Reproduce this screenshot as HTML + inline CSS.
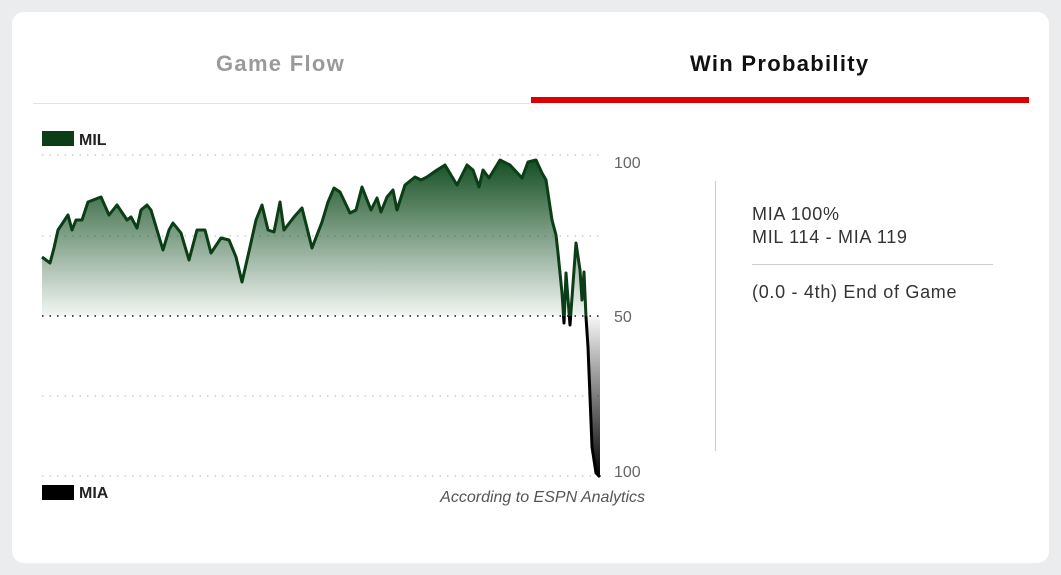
<!DOCTYPE html><html><head><style>
body{margin:0;background:#ebecee;width:1061px;height:575px;overflow:hidden;font-family:"Liberation Sans",sans-serif}
.card{position:absolute;left:12px;top:12px;width:1037px;height:551px;background:#fff;border-radius:12px}
.t{position:absolute;font-size:22px;font-weight:bold;top:51px;letter-spacing:1.3px}
.r{position:absolute;font-size:18px;color:#333;left:752px;letter-spacing:0.7px}
</style></head><body><div class="card"></div>
<div class="t" style="left:216px;color:#9a9a9a">Game Flow</div>
<div class="t" style="left:690px;color:#111">Win Probability</div>
<div style="position:absolute;left:33px;top:103px;width:498px;height:1px;background:#e3e3e3"></div>
<div style="position:absolute;left:531px;top:97px;width:498px;height:6px;background:#d00"></div>
<div style="position:absolute;left:715px;top:181px;width:1px;height:270px;background:#ccc"></div>
<div class="r" style="top:204px">MIA 100%</div>
<div class="r" style="top:227px">MIL 114 - MIA 119</div>
<div style="position:absolute;left:752px;top:264px;width:241px;height:1px;background:#ccc"></div>
<div class="r" style="top:282px">(0.0 - 4th) End of Game</div>
<svg width="1061" height="575" style="position:absolute;left:0;top:0">
<defs>
<linearGradient id="g" x1="0" y1="155" x2="0" y2="316" gradientUnits="userSpaceOnUse"><stop offset="0" stop-color="#0d4a1c"/><stop offset="1" stop-color="#0d4a1c" stop-opacity="0.05"/></linearGradient>
<linearGradient id="k" x1="0" y1="316" x2="0" y2="477" gradientUnits="userSpaceOnUse"><stop offset="0" stop-color="#000" stop-opacity="0.03"/><stop offset="1" stop-color="#000"/></linearGradient>
<clipPath id="top"><rect x="0" y="0" width="700" height="316"/></clipPath>
<clipPath id="bot"><rect x="0" y="316" width="700" height="300"/></clipPath>
<path id="ln" d="M42,257 L50,263 L54,248 L58,230 L68,215 L72,230 L76,220 L82,220 L88,202 L101,197 L109,215 L117,205 L127,220 L131,217 L137,228 L141,210 L147,205 L151,210 L157,230 L163,250 L169,230 L173,223 L181,233 L189,260 L197,230 L205,230 L211,253 L221,238 L229,240 L236,257 L242,282 L250,247 L256,220 L262,205 L268,230 L274,232 L280,202 L284,230 L294,217 L302,208 L312,248 L322,222 L328,202 L334,188 L340,192 L350,213 L356,210 L362,187 L371,210 L377,198 L381,212 L387,197 L393,190 L397,210 L405,185 L415,177 L421,180 L427,177 L437,170 L445,165 L457,185 L467,165 L473,170 L479,187 L483,170 L489,178 L500,160 L510,165 L522,178 L528,162 L536,160 L542,173 L546,180 L552,220 L556,235 L558,253 L562,293 L564,323 L566,273 L570,325 L576,243 L580,270 L582,300 L584,272 L586,317 L588,347 L590,397 L592,447 L596,473 L600,477"/>
</defs>
<g stroke-dasharray="1.5 6" stroke-width="1.5">
<line x1="42" y1="155" x2="600" y2="155" stroke="#ccc"/>
<line x1="42" y1="236" x2="600" y2="236" stroke="#ccc"/>
<line x1="42" y1="316" x2="600" y2="316" stroke="#111"/>
<line x1="42" y1="396" x2="600" y2="396" stroke="#ccc"/>
<line x1="42" y1="476" x2="600" y2="476" stroke="#ccc"/>
</g>
<path d="M42,316 L42,257 L50,263 L54,248 L58,230 L68,215 L72,230 L76,220 L82,220 L88,202 L101,197 L109,215 L117,205 L127,220 L131,217 L137,228 L141,210 L147,205 L151,210 L157,230 L163,250 L169,230 L173,223 L181,233 L189,260 L197,230 L205,230 L211,253 L221,238 L229,240 L236,257 L242,282 L250,247 L256,220 L262,205 L268,230 L274,232 L280,202 L284,230 L294,217 L302,208 L312,248 L322,222 L328,202 L334,188 L340,192 L350,213 L356,210 L362,187 L371,210 L377,198 L381,212 L387,197 L393,190 L397,210 L405,185 L415,177 L421,180 L427,177 L437,170 L445,165 L457,185 L467,165 L473,170 L479,187 L483,170 L489,178 L500,160 L510,165 L522,178 L528,162 L536,160 L542,173 L546,180 L552,220 L556,235 L558,253 L562,293 L564,316 L566,273 L570,316 L576,243 L580,270 L582,300 L584,272 L586,316 Z" fill="url(#g)" clip-path="url(#top)"/>
<path d="M586,316 L588,347 L590,397 L592,447 L596,473 L600,477 L600,316 Z" fill="url(#k)"/>
<use href="#ln" fill="none" stroke="#0b3d16" stroke-width="3" stroke-linejoin="round" clip-path="url(#top)"/>
<use href="#ln" fill="none" stroke="#000" stroke-width="3" stroke-linejoin="round" clip-path="url(#bot)"/>
<rect x="42" y="131" width="32" height="15" fill="#0b3d16"/>
<rect x="42" y="485" width="32" height="15" fill="#000"/>
<g font-family="Liberation Sans" font-size="16">
<text x="79" y="145" font-weight="bold" fill="#222">MIL</text>
<text x="79" y="498" font-weight="bold" fill="#222">MIA</text>
<text x="614" y="168" fill="#666">100</text>
<text x="614" y="322" fill="#666">50</text>
<text x="614" y="477" fill="#666">100</text>
<text x="645" y="502" text-anchor="end" font-style="italic" fill="#555">According to ESPN Analytics</text>
</g>
</svg></body></html>
